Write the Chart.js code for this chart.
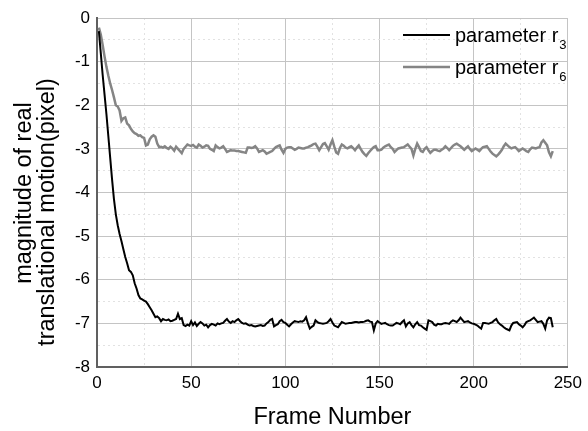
<!DOCTYPE html>
<html>
<head>
<meta charset="utf-8">
<script src="https://cdn.jsdelivr.net/npm/chart.js@4"></script>
<style>
  body { margin: 0; background: #fff; }
  canvas { display: block; }
</style>
</head>
<body>
<canvas id="motionChart" width="588" height="431"></canvas>
<script>
// values, one per frame (frame 1 .. 242)
var r3Values = [
  -0.3, -0.8, -1.3, -1.75, -2.2, -2.7, -3.2, -3.7, -4.15, -4.5,
  -4.75, -4.95, -5.12, -5.3, -5.48, -5.62, -5.78, -5.82, -5.9, -6.08,
  -6.2, -6.35, -6.43, -6.45, -6.48, -6.5, -6.56, -6.63, -6.7, -6.78,
  -6.86, -6.84, -6.88, -6.95, -6.9, -6.92, -6.93, -6.91, -6.95, -6.94,
  -6.92, -6.9, -6.78, -6.9, -6.88, -7.04, -7.06, -7.03, -7.05, -6.95,
  -7.04, -6.98, -7.06, -7.01, -6.97, -7.0, -7.05, -7.03, -7.09, -7.04,
  -7.01, -7.03, -7.05, -7.0, -7.02, -7.0, -6.99, -6.94, -6.9, -6.96,
  -6.99, -6.95, -6.97, -6.93, -6.9, -6.95, -6.99, -7.01, -7.0, -7.03,
  -7.05, -7.04, -7.06, -7.07, -7.06, -7.05, -7.04, -7.06, -7.05, -7.0,
  -6.97, -6.92, -6.9, -7.07, -7.04, -7.02, -6.95, -6.92, -6.97, -6.99,
  -7.03, -7.07, -7.02, -6.98, -6.95, -6.96, -6.97, -6.95, -6.96, -6.93,
  -6.86, -7.0, -7.12, -7.08, -7.05, -6.93, -6.97, -6.99, -7.0, -7.01,
  -7.0, -6.99, -6.95, -6.9, -6.98, -7.05, -7.07, -7.09, -7.03, -6.97,
  -6.99, -7.01, -7.0, -6.99, -6.99, -6.98, -6.97, -6.97, -6.98, -6.97,
  -6.97, -6.96, -6.94, -6.93, -6.96, -6.97, -7.16, -7.0, -6.95, -6.98,
  -7.01, -7.0, -6.99, -7.02, -7.04, -7.05, -7.05, -7.02, -6.99, -7.0,
  -7.02, -6.97, -6.93, -7.07, -7.0, -6.97, -7.04, -7.09, -7.02, -6.97,
  -7.04, -7.05, -7.09, -7.12, -7.15, -6.93, -6.95, -6.97, -7.03, -7.05,
  -7.01, -7.02, -7.02, -7.0, -6.99, -7.0, -7.01, -6.96, -6.93, -6.95,
  -6.97, -6.93, -6.87, -6.92, -6.97, -6.96, -6.95, -6.98, -7.0, -7.01,
  -7.03, -7.05, -7.09, -7.12, -6.99, -6.99, -7.0, -7.01, -6.99, -6.97,
  -6.93, -6.9, -6.98, -7.02, -7.05, -7.09, -7.12, -7.14, -7.16, -7.05,
  -6.99, -6.98, -6.97, -7.02, -7.05, -7.09, -7.04, -6.97, -6.95, -6.93,
  -6.9, -6.87, -6.92, -6.97, -6.96, -6.95, -7.01, -7.12, -6.93, -6.87,
  -6.88, -7.09
];

var r6Values = [
  -0.22, -0.38, -0.62, -0.88, -1.12, -1.32, -1.5, -1.65, -1.82, -2.0,
  -2.03, -2.12, -2.36, -2.3, -2.28, -2.42, -2.46, -2.54, -2.6, -2.64,
  -2.66, -2.7, -2.69, -2.73, -2.75, -2.92, -2.9, -2.78, -2.72, -2.69,
  -2.72, -2.88, -2.96, -2.95, -2.97, -2.94, -2.98, -3.0, -2.95, -2.99,
  -3.04, -2.95, -3.0, -3.05, -3.1, -3.0, -2.95, -2.9, -2.92, -2.93,
  -2.91, -2.95, -2.97, -2.9, -2.93, -2.97, -2.95, -2.92, -2.93, -3.0,
  -3.02, -3.05, -2.92, -2.96, -2.99, -2.97, -2.94, -3.0, -3.07, -3.05,
  -3.03, -3.04, -3.04, -3.05, -3.05, -3.06, -3.07, -3.08, -3.09, -2.97,
  -2.97, -2.98, -2.97, -2.94, -2.99, -3.07, -3.05, -3.03, -3.06, -3.11,
  -3.09, -3.07, -3.05, -3.0, -2.96, -2.94, -2.92, -3.02, -3.09, -3.0,
  -2.97, -2.96, -2.96, -2.99, -3.02, -3.0, -2.97, -2.98, -2.99, -2.99,
  -2.97, -2.96, -2.94, -2.92, -2.89, -2.88, -2.95, -3.03, -2.96, -2.89,
  -2.87, -2.94, -3.02, -2.9, -2.8, -2.95, -3.08, -3.11, -2.98, -2.9,
  -2.93, -2.97, -2.99, -2.96, -2.94, -2.98, -3.03, -2.97, -2.92, -3.0,
  -3.07, -3.12, -3.16, -3.1, -3.05, -3.0, -2.96, -2.94, -3.03, -3.03,
  -3.02, -2.97, -2.94, -2.92, -2.9, -2.96, -3.0, -3.07, -3.03, -2.99,
  -2.98, -2.97, -2.96, -2.93, -2.9, -2.95, -3.0, -3.15, -3.0, -2.88,
  -2.96, -3.05, -3.07, -3.0, -2.96, -3.03, -3.09, -3.05, -3.02, -3.02,
  -3.04, -3.05, -3.02, -2.99, -2.94, -2.98, -3.03, -2.98, -2.93, -2.9,
  -2.88, -2.91, -2.94, -2.98, -3.02, -2.98, -2.94, -3.0, -3.05, -3.02,
  -2.99, -3.02, -3.05, -3.0, -2.96, -2.95, -2.94, -3.0, -3.06, -3.11,
  -3.14, -3.17, -3.13, -3.08, -3.02, -2.94, -2.88, -2.92, -2.96, -2.99,
  -2.97, -2.96, -3.0, -3.05, -3.02, -2.99, -3.02, -3.05, -3.07, -3.01,
  -2.97, -2.98, -2.99, -2.97, -2.96, -2.85, -2.8, -2.86, -2.92, -3.08,
  -3.17, -3.05
];

var seriesNames = ["parameter r", "parameter r"];
var seriesSubs = ["3", "6"];
var seriesColors = ["#000000", "#858585"];

var xTitle = "Frame Number";
var yTitle = ["magnitude of real", "translational motion(pixel)"];

var frames = r3Values.map(function (v, i) { return i + 1; });

var FONT = 'Arial, "Liberation Sans", sans-serif';

function toPoints(values) {
     return values.map(function (v, i) { return { x: frames[i], y: v }; });
}

// legend with subscripts, top right inside the plot
var subLegend = {
     id: 'subLegend',
     afterDraw: function (chart) {
          var ctx = chart.ctx;
          var rows = [35, 67];
          ctx.save();
          for (var i = 0; i < seriesNames.length; i++) {
               var y = rows[i];
               ctx.strokeStyle = seriesColors[i];
               ctx.lineWidth = i === 0 ? 2 : 2.5;
               ctx.beginPath();
               ctx.moveTo(403, y);
               ctx.lineTo(450, y);
               ctx.stroke();
               ctx.fillStyle = '#000';
               ctx.textBaseline = 'middle';
               ctx.font = '20px ' + FONT;
               ctx.fillText(seriesNames[i], 455, y + 1);
               var w = ctx.measureText(seriesNames[i]).width;
               ctx.font = '13px ' + FONT;
               ctx.fillText(seriesSubs[i], 455 + w + 1, y + 10);
          }
          ctx.restore();
     }
};

// two-line rotated y title (the lines sit a little apart in the original)
var yTitlePlugin = {
     id: 'yTitlePlugin',
     afterDraw: function (chart) {
          var ctx = chart.ctx;
          var pos = [[25, 193], [48, 212]];
          ctx.save();
          ctx.fillStyle = '#000';
          ctx.font = '23.5px ' + FONT;
          ctx.textAlign = 'center';
          ctx.textBaseline = 'middle';
          for (var i = 0; i < yTitle.length; i++) {
               ctx.save();
               ctx.translate(pos[i][0], pos[i][1]);
               ctx.rotate(-Math.PI / 2);
               ctx.fillText(yTitle[i], 0, 0);
               ctx.restore();
          }
          ctx.restore();
     }
};

function gridColor(ctx) {
     if (!ctx.tick) return '#c8c8c8';
     var step = ctx.scale.axis === 'x' ? 50 : 1;
     return Math.abs(ctx.tick.value % step) < 1e-9 ? '#c4c4c4' : '#e2e2e2';
}
function gridDash(ctx) {
     if (!ctx.tick) return [];
     var step = ctx.scale.axis === 'x' ? 50 : 1;
     return Math.abs(ctx.tick.value % step) < 1e-9 ? [] : [2, 3];
}

new Chart(document.getElementById('motionChart').getContext('2d'), {
     type: 'line',
     data: {
          datasets: [{
               label: seriesNames[0] + seriesSubs[0],
               data: toPoints(r3Values),
               borderColor: seriesColors[0],
               borderWidth: 2,
               pointRadius: 0,
               tension: 0
          }, {
               label: seriesNames[1] + seriesSubs[1],
               data: toPoints(r6Values),
               borderColor: seriesColors[1],
               borderWidth: 2.5,
               pointRadius: 0,
               tension: 0
          }]
     },
     options: {
          responsive: false,
          animation: false,
          devicePixelRatio: 1,
          layout: { padding: { left: 0, top: 18, right: 16, bottom: 0 } },
          plugins: {
               legend: { display: false },
               tooltip: { enabled: false }
          },
          scales: {
               x: {
                    type: 'linear',
                    min: 0,
                    max: 250,
                    afterFit: function (s) { s.height = 64; },
                    ticks: {
                         stepSize: 25,
                         autoSkip: false,
                         maxRotation: 0,
                         padding: 6,
                         color: '#000',
                         font: { family: FONT, size: 17 },
                         callback: function (v) { return v % 50 === 0 ? v : ''; }
                    },
                    grid: { color: gridColor, drawTicks: false, lineWidth: 1 },
                    border: { color: '#606060', width: 2, dash: gridDash },
                    title: {
                         display: true,
                         text: xTitle,
                         color: '#000',
                         font: { family: FONT, size: 23.5, lineHeight: 1.0 },
                         padding: { top: 0, bottom: 2 }
                    }
               },
               y: {
                    min: -8,
                    max: 0,
                    afterFit: function (s) { s.width = 97; },
                    ticks: {
                         stepSize: 0.5,
                         autoSkip: false,
                         padding: 7,
                         color: '#000',
                         font: { family: FONT, size: 17 },
                         callback: function (v) { return v % 1 === 0 ? v : ''; }
                    },
                    grid: { color: gridColor, drawTicks: false, lineWidth: 1 },
                    border: { color: '#606060', width: 2, dash: gridDash },
                    title: { display: false }
               }
          }
     },
     plugins: [subLegend, yTitlePlugin]
});
</script>
</body>
</html>
